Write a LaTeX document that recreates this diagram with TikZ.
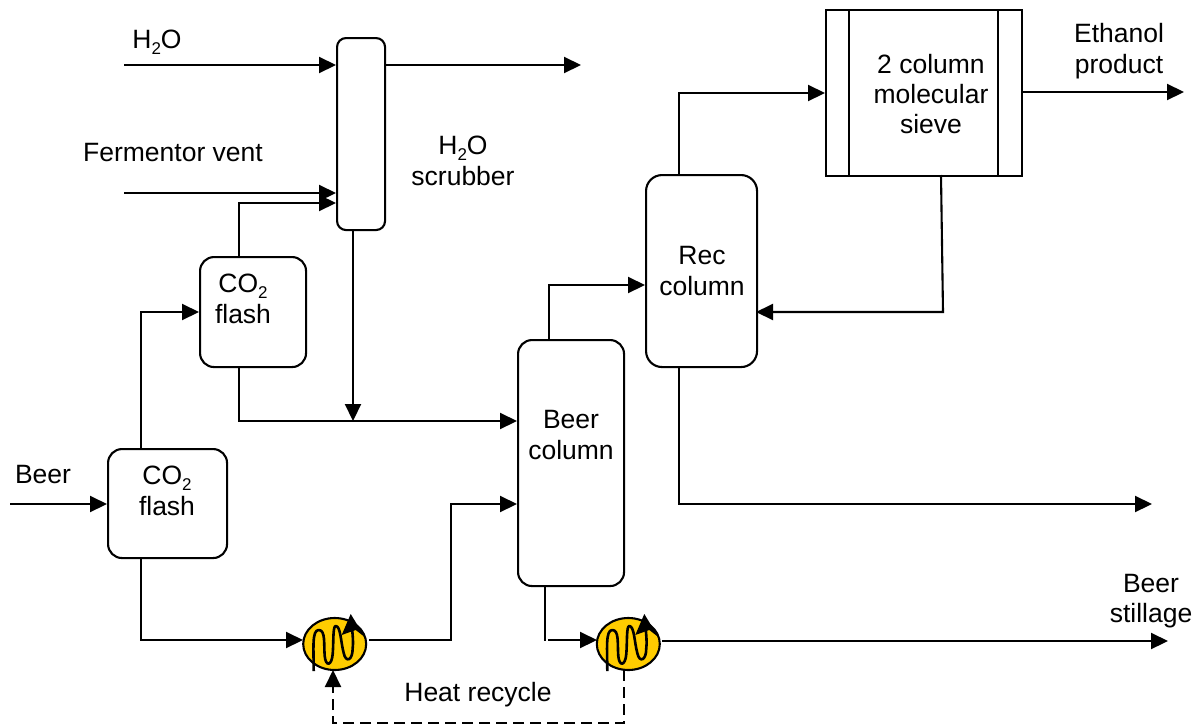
\documentclass[tikz,border=0pt]{standalone}
\usepackage{fontspec}
\setmainfont{Liberation Sans}
\usetikzlibrary{arrows.meta,shapes.geometric}
\newcommand{\subtwo}{\raisebox{-0.22em}{\fontsize{17}{17}\selectfont 2}}
\definecolor{hxyellow}{RGB}{255,204,0}
\tikzset{
  x=1pt,y=-1pt,
  flow/.style={line width=2.1pt,-{Triangle[length=17pt,width=16pt]}},
  plain/.style={line width=2.1pt},
  unit/.style={draw=black,line width=2.1pt,rounded corners=9pt,fill=white,inner sep=0pt,anchor=north west},
  sievebox/.style={draw=black,line width=2.1pt,fill=white,inner sep=0pt,anchor=north west},
  txt/.style={font=\fontsize{26.5}{31}\selectfont,align=center,inner sep=0pt,text=black},
  hxbody/.style={draw=black,line width=2.1pt,fill=hxyellow,ellipse,inner sep=0pt,minimum width=63pt,minimum height=52pt},
  coil/.style={line width=2.6pt,draw=black,line join=round},
}
\newcommand{\coilat}[1]{%
  \begin{scope}[shift={(#1)}]
    \draw[coil] (-21,27) .. controls (-21,5) and (-23,-14) .. (-16,-14)
      .. controls (-9,-14) and (-11,0) .. (-10,12)
      .. controls (-9,23) and (-3,22) .. (-2,10)
      .. controls (-1,-2) and (-2,-18) .. (1,-18)
      .. controls (6,-18) and (6,-2) .. (9,9)
      .. controls (11,19) and (18,17) .. (18,4)
      .. controls (19,-5) and (17,-14) .. (17,-25);
    \fill[black] (16,-30) -- (30,-7) -- (21,-14) -- (7,-9) -- cycle;
  \end{scope}}
\begin{document}
\begin{tikzpicture}
\useasboundingbox (0,0) rectangle (1204,726);

% units
\node[unit,minimum width=48pt,minimum height=192pt] (scrub) at (336,37) {};
\node[unit,minimum width=106pt,minimum height=110pt,rounded corners=14pt] (flashup) at (199,256) {};
\node[unit,minimum width=119pt,minimum height=109pt,rounded corners=14pt] (flashlow) at (107,448) {};
\node[unit,minimum width=106pt,minimum height=246pt,rounded corners=14pt] (beercol) at (517,339) {};
\node[unit,minimum width=111pt,minimum height=192pt,rounded corners=16pt] (reccol) at (645,174) {};
\node[sievebox,minimum width=196pt,minimum height=166pt] (sieve) at (825,9) {};
\coordinate (sl1) at (849,10); \coordinate (sl2) at (849,175);
\coordinate (sr1) at (998,10); \coordinate (sr2) at (998,175);
\draw[plain] (sl1) -- (sl2);
\draw[plain] (sr1) -- (sr2);

% heat exchangers
\node[hxbody] (hxa) at (334.7,644) {};
\node[hxbody] (hxb) at (628.3,644) {};
\coilat{334.7,644}
\coilat{628.3,644}

% free ends
\coordinate (wtrin) at (124,65);
\coordinate (wtrout) at (581,65);
\coordinate (ventin) at (124,193);
\coordinate (beerin) at (10,504);
\coordinate (etoh) at (1184,92);
\coordinate (recout) at (1152,504);
\coordinate (still) at (1168,641);
\coordinate (mergept) at (353,421);

% connectors
\draw[flow] (wtrin) -- (wtrin -| scrub.west);
\draw[flow] (scrub.east |- wtrout) -- (wtrout);
\draw[flow] (ventin) -- (ventin -| scrub.west);
\draw[flow] (239,256) -- (239,203) -- (336,203);
\draw[flow] (141,448) -- (141,312) -- (199,312);
\draw[flow] (353,229) -- (mergept);
\draw[flow] (239,366) -- (239,421) -- (517,421);
\draw[flow] (beerin) -- (beerin -| flashlow.west);
\draw[flow] (141,557) -- (141,640) -- (303,640);
\draw[flow] (369,640) -- (451,640) -- (451,504) -- (517,504);
\draw[plain] (545,585) -- (545,641);
\draw[flow] (548,640) -- (597,640);
\draw[flow] (662,641) -- (still);
\draw[flow] (549,339) -- (549,285) -- (645,285);
\draw[flow] (679,174) -- (679,93) -- (825,93);
\draw[flow] (941,175) -- (943,312) -- (756,312);
\draw[flow] (679,366) -- (679,504) -- (recout);
\draw[flow] (sieve.east |- etoh) -- (etoh);
\draw[flow,dash pattern=on 11pt off 6pt] (624,670) -- (624,723) -- (333,723) -- (333,670);

% labels
\node[txt] (lwtr) at (157,42) {H\subtwo O};
\node[txt] (lvent) at (173,153) {Fermentor vent};
\node[txt] (lscrub) at (463,161) {H\subtwo O\\scrubber};
\node[txt] (lflashup) at (243,299) {CO\subtwo\\flash};
\node[txt] (lflashlow) at (167,491) {CO\subtwo\\flash};
\node[txt] (lbeer) at (43,475) {Beer};
\node[txt,font=\fontsize{26.5}{31}\selectfont] (lbeercol) at (571,435) {Beer\\column};
\node[txt] (lrec) at (702,271) {Rec\\column};
\node[txt,font=\fontsize{26.5}{30}\selectfont] (lsieve) at (931,94) {2 column\\molecular\\sieve};
\node[txt] (letoh) at (1119,51) {Ethanol\\product};
\node[txt,font=\fontsize{26.5}{29.5}\selectfont] (lstill) at (1151,601) {Beer\\stillage};
\node[txt] (lheat) at (478,695) {Heat recycle};
\end{tikzpicture}
\end{document}
